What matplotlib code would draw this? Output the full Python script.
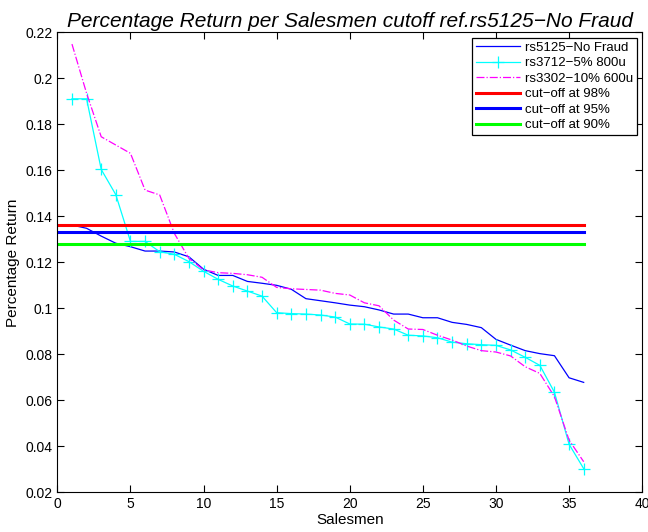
import matplotlib
matplotlib.use("Agg")
import matplotlib.pyplot as plt
import numpy as np

salesmen = np.arange(1, 37)

rs5125 = [0.1362, 0.1348, 0.1314, 0.1283, 0.1268, 0.1249, 0.1249, 0.1245, 0.1224,
          0.1170, 0.1143, 0.1143, 0.1117, 0.1109, 0.1100, 0.1083, 0.1042, 0.1033,
          0.1024, 0.1014, 0.1007, 0.0993, 0.0975, 0.0975, 0.0959, 0.0959, 0.0939,
          0.0930, 0.0916, 0.0865, 0.0840, 0.0816, 0.0803, 0.0794, 0.0698, 0.0678]

rs3712 = [0.1911, 0.1911, 0.1604, 0.1494, 0.1291, 0.1291, 0.1246, 0.1235, 0.1203,
          0.1161, 0.1126, 0.1097, 0.1075, 0.1053, 0.0981, 0.0977, 0.0975, 0.0971,
          0.0962, 0.0932, 0.0931, 0.0919, 0.0910, 0.0883, 0.0880, 0.0872, 0.0853,
          0.0846, 0.0842, 0.0839, 0.0819, 0.0787, 0.0752, 0.0635, 0.0409, 0.0303]

rs3302 = [0.2149, 0.1935, 0.1746, 0.1710, 0.1674, 0.1514, 0.1493, 0.1326, 0.1217,
          0.1167, 0.1155, 0.1152, 0.1146, 0.1135, 0.1091, 0.1085, 0.1082, 0.1079,
          0.1065, 0.1058, 0.1024, 0.1011, 0.0949, 0.0910, 0.0908, 0.0883, 0.0862,
          0.0836, 0.0816, 0.0810, 0.0793, 0.0746, 0.0717, 0.0616, 0.0427, 0.0333]

cutoffs = [0.1361, 0.1333, 0.1278]
cutoff_labels = ["cut\u2212off at 98%", "cut\u2212off at 95%", "cut\u2212off at 90%"]
cutoff_colors = ["#ff0000", "#0000ff", "#00ff00"]
cutoff_x = [0, 36]

plt.rcParams["font.family"] = ["Liberation Sans", "DejaVu Sans"]

fig = plt.figure(figsize=(6.48, 5.32), dpi=100)
ax = fig.add_axes([0.0885, 0.0746, 0.9025, 0.8646])

ax.plot(salesmen, rs5125, color="#0000ff", lw=0.9, label="rs5125\u2212No Fraud")
ax.plot(salesmen, rs3712, color="#00ffff", lw=0.9, marker="+", ms=8, mew=0.9,
        label="rs3712\u22125% 800u")
ax.plot(salesmen, rs3302, color="#ff00ff", lw=0.9, ls="-.", label="rs3302\u221210% 600u")
for c, lab, col in zip(cutoffs, cutoff_labels, cutoff_colors):
    ax.plot(cutoff_x, [c, c], color=col, lw=2.2, label=lab)

ax.set_xlim(0, 40)
ax.set_ylim(0.02, 0.22)
ax.set_xticks(range(0, 41, 5))
ax.set_yticks(np.arange(0.02, 0.2201, 0.02))
ax.set_yticklabels(["0.02", "0.04", "0.06", "0.08", "0.1", "0.12", "0.14",
                    "0.16", "0.18", "0.2", "0.22"])
ax.tick_params(direction="in", top=True, right=True, labelsize=10, length=5)
ax.set_xlabel("Salesmen", fontsize=11, labelpad=1)
ax.set_ylabel("Percentage Return", fontsize=11, labelpad=4)
ax.set_title("Percentage Return per Salesmen cutoff ref.rs5125\u2212No Fraud",
             fontsize=15, style="italic", pad=4)

leg = ax.legend(loc="upper right", fontsize=9.5, fancybox=False, framealpha=1,
                edgecolor="black", borderaxespad=0.4, handlelength=3.3,
                labelspacing=0.25, borderpad=0.3, handletextpad=0.4)
leg.get_frame().set_linewidth(0.9)

fig.savefig("out.png", dpi=100)
